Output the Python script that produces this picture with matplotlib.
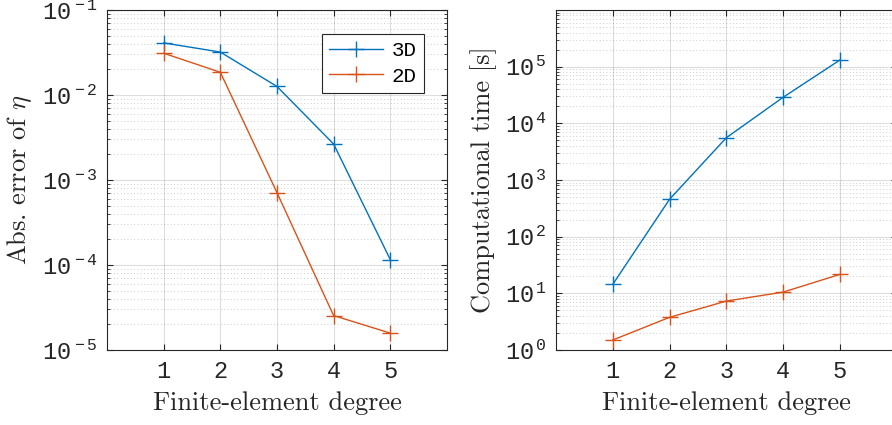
import numpy as np
import matplotlib
matplotlib.use('Agg')
import matplotlib.pyplot as plt
from matplotlib.ticker import LogLocator, FixedLocator, FuncFormatter, NullFormatter

degree = [1, 2, 3, 4, 5]
err_3d = [0.041, 0.032, 0.0126, 0.00265, 1.16e-4]
err_2d = [0.031, 0.0185, 7.1e-4, 2.54e-5, 1.58e-5]
time_3d = [14.4, 457, 5570, 28800, 1.31e5]
time_2d = [1.5, 3.77, 7.3, 10.5, 21.6]

blue = '#0072BD'
orange = '#D95319'

plt.rcParams['font.family'] = ['Liberation Mono', 'DejaVu Sans']
plt.rcParams['mathtext.fontset'] = 'custom'
plt.rcParams['mathtext.rm'] = 'Liberation Mono'
plt.rcParams['mathtext.it'] = 'Liberation Mono'
plt.rcParams['axes.unicode_minus'] = False


def log_fmt(v, pos):
    e = int(round(np.log10(v)))
    return r'$10^{\,%d}$' % e


def style(ax, ymin, ymax, shown_max):
    ax.set_yscale('log')
    ax.set_xlim(0, 6)
    ax.set_ylim(ymin, ymax)
    ax.set_xticks(degree)
    ax.yaxis.set_major_locator(FixedLocator([10.0 ** k for k in range(int(np.log10(ymin)), shown_max + 1)]))
    ax.yaxis.set_major_formatter(FuncFormatter(log_fmt))
    ax.yaxis.set_minor_locator(LogLocator(base=10, subs=np.arange(2, 10), numticks=20))
    ax.yaxis.set_minor_formatter(NullFormatter())
    ax.tick_params(which='both', direction='in', top=True, right=True, color='#262626')
    ax.tick_params(which='major', length=4, labelsize=17, labelcolor='#262626', pad=7)
    ax.tick_params(which='minor', length=2)
    ax.grid(True, which='major', color='#262626', alpha=0.15, lw=0.8)
    ax.grid(True, which='minor', axis='y', color='#262626', alpha=0.3, lw=0.6, ls=(0, (1, 3)))
    ax.axhline(ymax, color='#262626', alpha=0.15, lw=0.8)
    for s in ax.spines.values():
        s.set_color('#262626')
        s.set_linewidth(0.8)
    ax.set_xlabel('Finite-element degree', family='cmr10', fontsize=19, color='#262626',
                  labelpad=6)


fig = plt.figure(figsize=(8.92, 4.25), dpi=100)
ax1 = fig.add_axes([0.120, 0.1765, 0.381, 0.80])
ax2 = fig.add_axes([0.6233, 0.1765, 0.382, 0.80])

ax1.plot(degree, err_3d, '-+', color=blue, lw=1, ms=12, mew=1, label='3D')
ax1.plot(degree, err_2d, '-+', color=orange, lw=1, ms=12, mew=1, label='2D')
style(ax1, 1e-5, 1e-1, -1)
ax1.set_ylabel(r'Abs. error of $\eta$', family='cmr10', fontsize=19, color='#262626',
               math_fontfamily='cm', labelpad=6)
leg = ax1.legend(loc='upper right', bbox_to_anchor=(0.932, 0.929), borderaxespad=0,
                 fontsize=15, fancybox=False, edgecolor='#262626', framealpha=1,
                 handlelength=2.6, borderpad=0.35, labelspacing=0.3, handletextpad=0.4)
leg.get_frame().set_linewidth(0.8)

ax2.plot(degree, time_3d, '-+', color=blue, lw=1, ms=12, mew=1)
ax2.plot(degree, time_2d, '-+', color=orange, lw=1, ms=12, mew=1)
style(ax2, 1, 1e6, 5)
ax2.set_ylabel('Computational time [s]', family='cmr10', fontsize=19, color='#262626',
               labelpad=6)

fig.savefig('out.png', dpi=100)
